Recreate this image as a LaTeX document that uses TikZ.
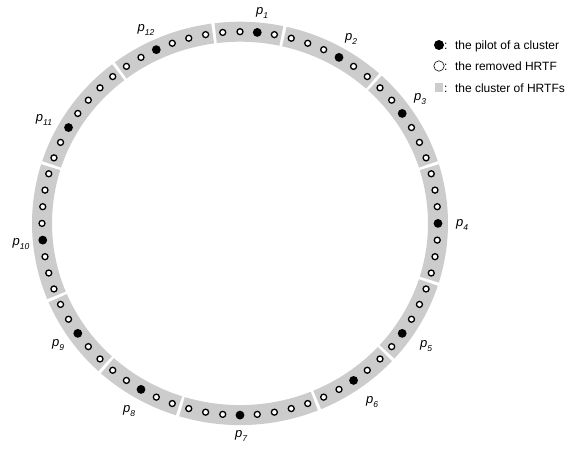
\documentclass[tikz,border=0pt]{standalone}
\usepackage{fontspec}
\setmainfont{Liberation Sans}
\usetikzlibrary{calc}
\definecolor{bandgray}{HTML}{CCCCCC}
\tikzset{
  band/.style={draw=bandgray, line width=20pt, line cap=butt},
  removed/.style={circle, draw=black, fill=white, line width=1.3pt, minimum size=6pt, inner sep=0pt},
  pilot/.style={circle, fill=black, minimum size=8.8pt, inner sep=0pt},
  plabel/.style={inner sep=0pt, font=\fontsize{13}{13}\selectfont\itshape},
  legtext/.style={inner sep=0pt, anchor=base west, font=\fontsize{12}{14}\selectfont},
}
\newcommand{\plab}[1]{p\raisebox{-3.2pt}{\fontsize{8.5}{8.5}\selectfont\itshape #1}}
\begin{document}
\begin{tikzpicture}[x=1pt,y=1pt]
\useasboundingbox (0,0) rectangle (570,448);
\coordinate (C) at (240,224.6);
% clusters (gray arcs)
\foreach \s/\e in {-17.5/17.5, 17.5/47.5, 47.5/77.5, 77.5/97.5, 97.5/127.5, 127.5/162.5,
                   162.5/202.5, 202.5/227.5, 227.5/252.5, 252.5/292.5, 292.5/317.5, 317.5/342.5}{
  \draw[band] ($(C)+(\s+0.45:198 and 191.7)$) arc[start angle=\s+0.45, end angle=\e-0.45, x radius=198, y radius=191.7];
}
% removed HRTFs
\foreach \a in {5,10,15,20,25,30,40,45,50,55,65,70,75,80,90,95,100,105,110,120,125,130,135,140,145,
                155,160,165,170,175,180,190,195,200,205,210,220,225,230,235,245,250,255,260,265,
                275,280,285,290,295,300,310,315,320,330,335,340,345,350,355}{
  \node[removed] (d\a) at ($(C)+(\a:198 and 191.7)$) {};
}
% pilots
\foreach \a in {0,35,60,85,115,150,185,215,240,270,305,325}{
  \node[pilot] (d\a) at ($(C)+(\a:198 and 191.7)$) {};
}
% labels
\node[plabel] (p1) at (262,435) {\plab{1}};
\node[plabel] (p2) at (351,409) {\plab{2}};
\node[plabel] (p3) at (420,349) {\plab{3}};
\node[plabel] (p4) at (462,223) {\plab{4}};
\node[plabel] (p5) at (426,102) {\plab{5}};
\node[plabel] (p6) at (372,46) {\plab{6}};
\node[plabel] (p7) at (241,12) {\plab{7}};
\node[plabel] (p8) at (129,37) {\plab{8}};
\node[plabel] (p9) at (58,103) {\plab{9}};
\node[plabel] (p10) at (21,204) {\plab{10}};
\node[plabel] (p11) at (44,328) {\plab{11}};
\node[plabel] (p12) at (146,418) {\plab{12}};
% legend
\node[circle, fill=black, minimum size=10pt, inner sep=0pt] (lg1) at (439,403) {};
\node[circle, draw=black, line width=0.6pt, fill=white, minimum size=10.4pt, inner sep=0pt] (lg2) at (439,382) {};
\node[rectangle, fill=bandgray, minimum width=8.5pt, minimum height=9pt, inner sep=0pt] (lg3) at (439,360) {};
\node[legtext] (lt1) at (444,398) {:\hspace{7.5pt}the pilot of a cluster};
\node[legtext] (lt2) at (444,377) {:\hspace{7.5pt}the removed HRTF};
\node[legtext] (lt3) at (444,355) {:\hspace{7.5pt}the cluster of HRTFs};
\end{tikzpicture}
\end{document}
